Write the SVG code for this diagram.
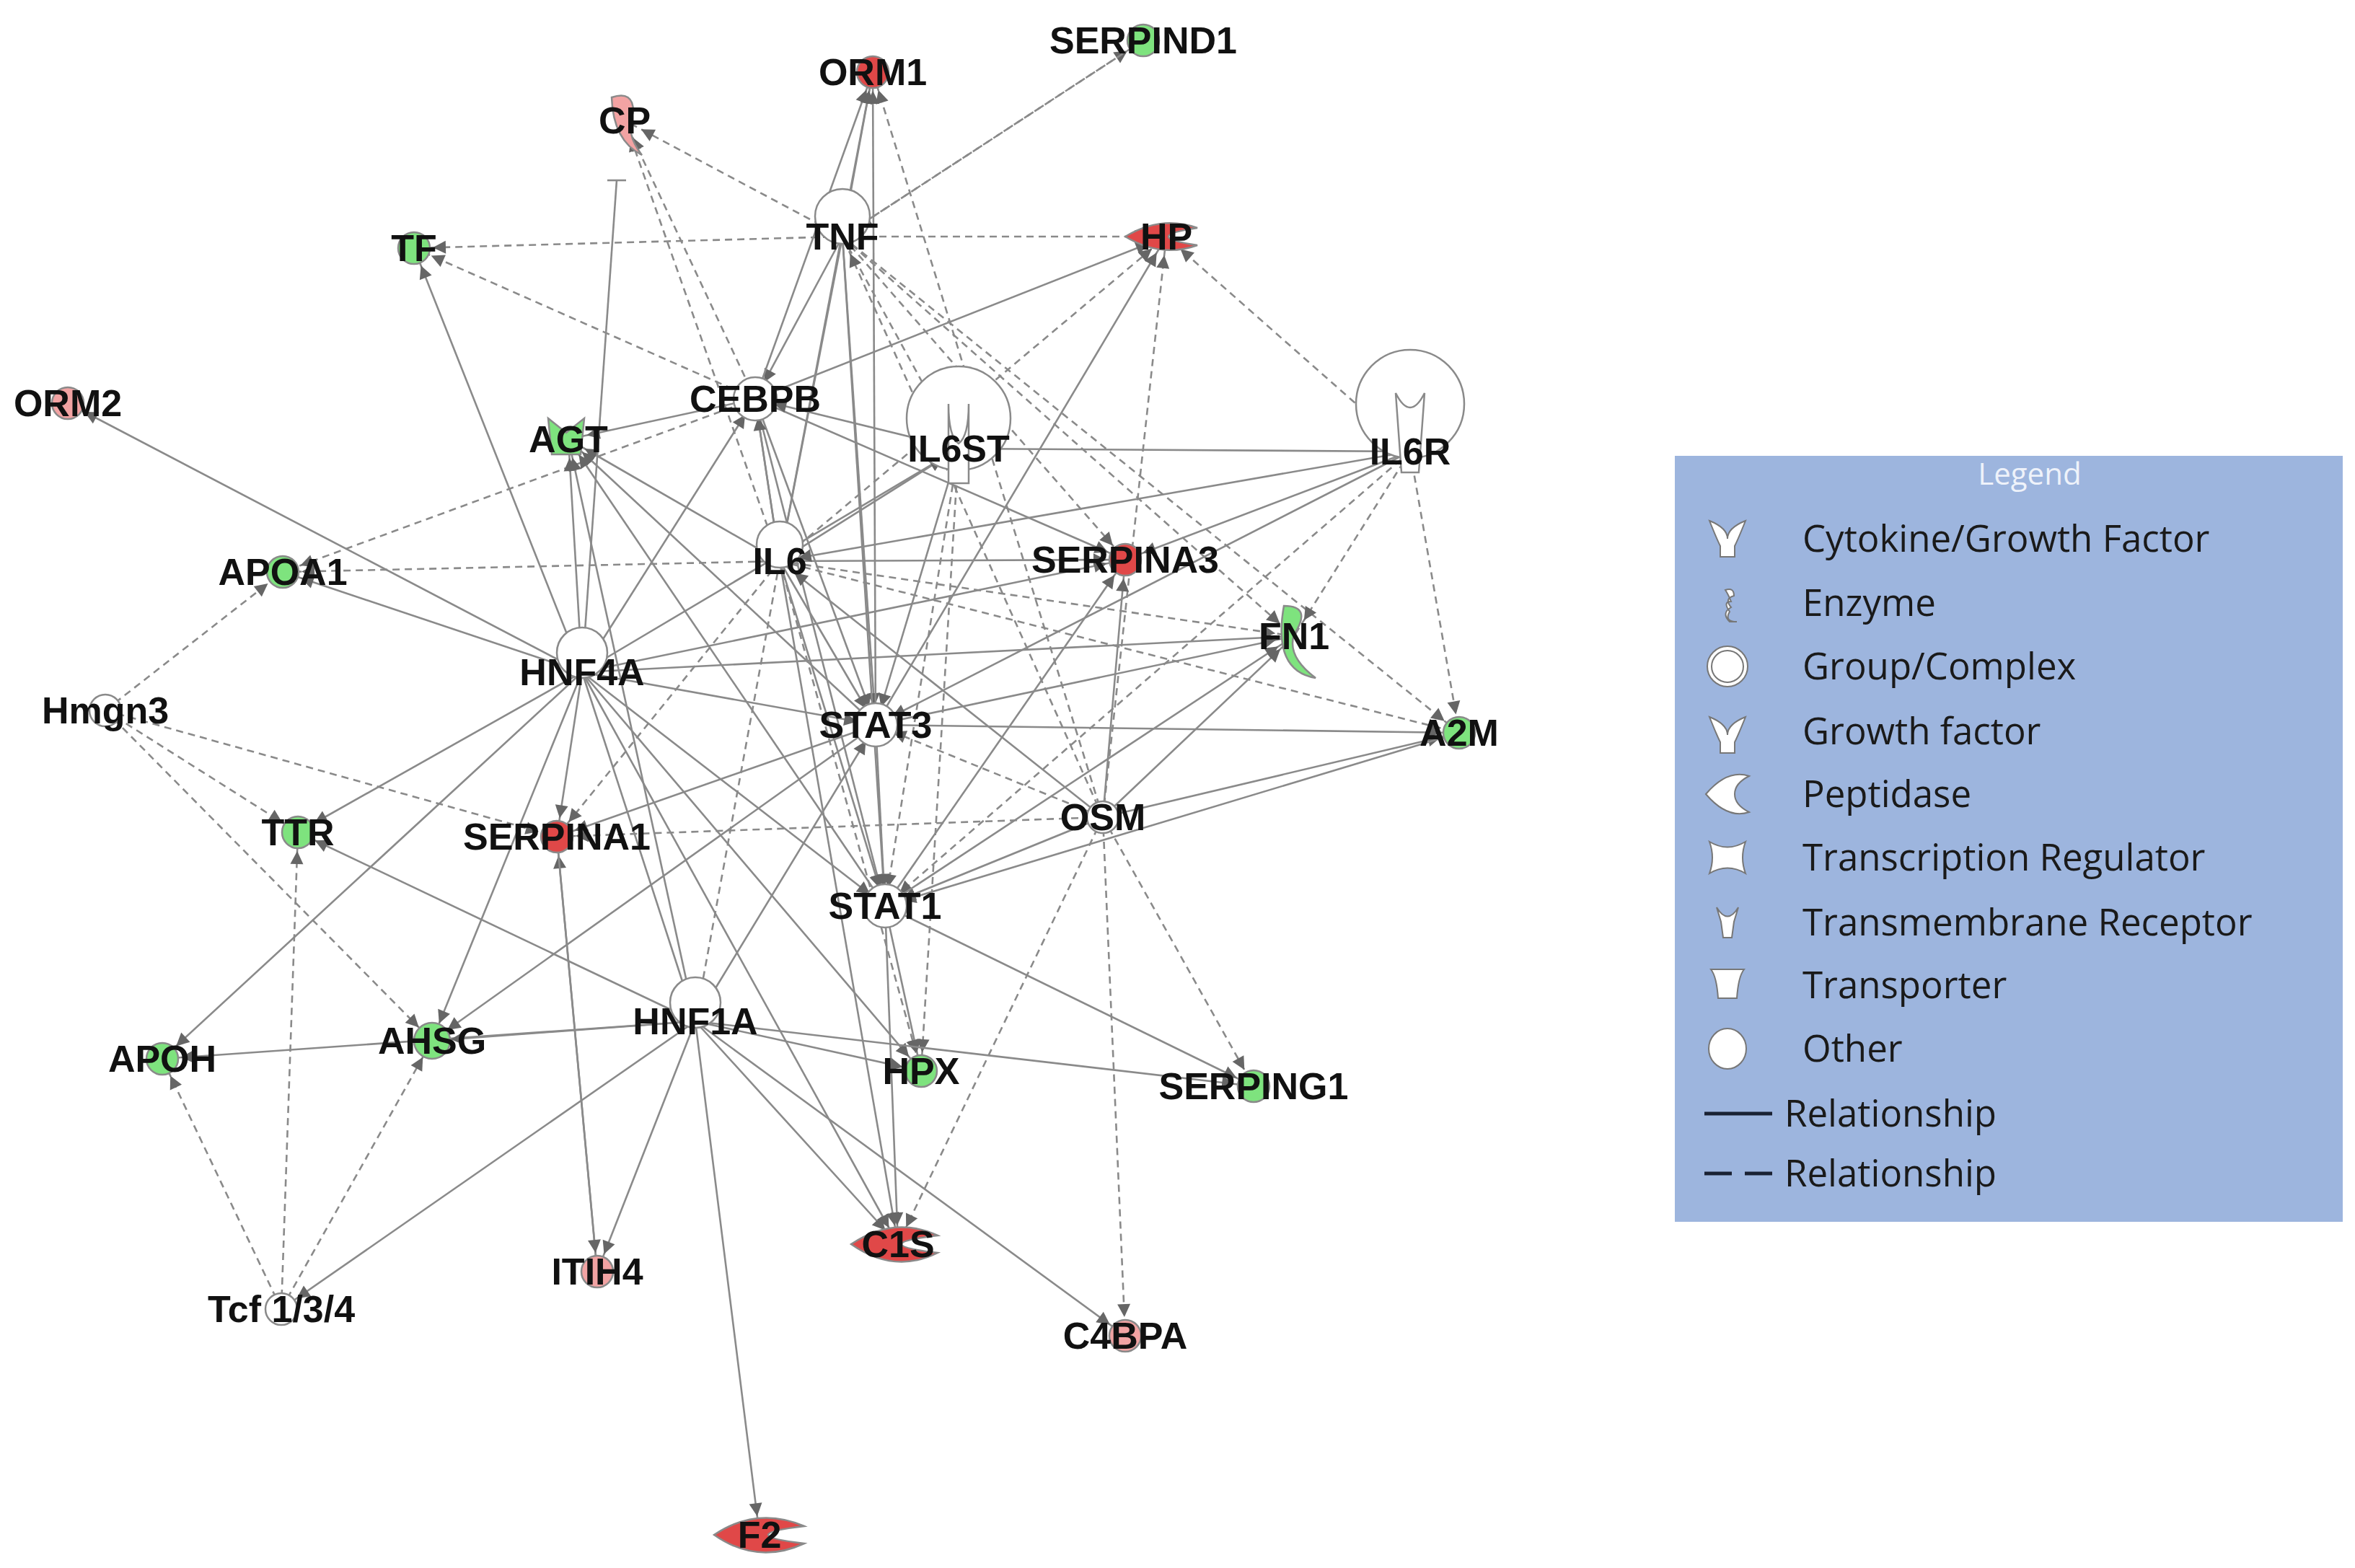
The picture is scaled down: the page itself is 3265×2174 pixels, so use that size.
<svg xmlns="http://www.w3.org/2000/svg" width="3265" height="2174" viewBox="0 0 3265 2174">
<style>
.e{stroke:#8a8a8a;stroke-width:2.6;fill:none;marker-end:url(#ah)}
.d{stroke-dasharray:10,7}
.n{stroke:#8a8a8a;stroke-width:2.5}
.w{fill:#fff}.r{fill:#e04848}.p{fill:#f2a3a3}.g{fill:#7ee37e}
.t{font-family:"Liberation Sans",Arial,sans-serif;font-weight:bold;font-size:52px;fill:#111;text-anchor:middle}
.lt{font-family:"Open Sans","Liberation Sans",sans-serif;font-size:51px;fill:#1a1a1a}
.li{fill:#fff;stroke:#777;stroke-width:2}
</style>
<defs>
<marker id="ah" markerUnits="userSpaceOnUse" viewBox="-10 -10 30 20" markerWidth="30" markerHeight="20" refX="38" refY="0" orient="auto" overflow="visible">
<path d="M-6,-9 L12,0 L-6,9 z" fill="#666"/>
</marker>
</defs>
<rect width="3265" height="2174" fill="#fff"/>
<g id="connectors">
<line class="e" x1="1168" y1="328" x2="1210" y2="100"/>
<line class="e d" x1="1168" y1="328" x2="866" y2="167"/>
<line class="e d" x1="1168" y1="328" x2="574" y2="344"/>
<line class="e d" x1="1168" y1="328" x2="1617" y2="328"/>
<line class="e" x1="1168" y1="328" x2="1047" y2="553"/>
<line class="e" x1="1168" y1="328" x2="1081" y2="778"/>
<line class="e d" x1="1168" y1="328" x2="1329" y2="622"/>
<line class="e d" x1="1168" y1="328" x2="1560" y2="776"/>
<line class="e d" x1="1168" y1="328" x2="1794" y2="882"/>
<line class="e d" x1="1168" y1="328" x2="2023" y2="1016"/>
<line class="e" x1="1168" y1="328" x2="1214" y2="1005"/>
<line class="e" x1="1168" y1="328" x2="1227" y2="1256"/>
<line class="e d" x1="1168" y1="328" x2="1585" y2="56"/>
<line class="e" x1="1047" y1="553" x2="1210" y2="100"/>
<line class="e d" x1="1047" y1="553" x2="866" y2="167"/>
<line class="e d" x1="1047" y1="553" x2="574" y2="344"/>
<line class="e" x1="1047" y1="553" x2="1617" y2="328"/>
<line class="e d" x1="1047" y1="553" x2="392" y2="793"/>
<line class="e" x1="1047" y1="553" x2="1081" y2="778"/>
<line class="e" x1="1047" y1="553" x2="1560" y2="776"/>
<line class="e" x1="1047" y1="553" x2="1214" y2="1005"/>
<line class="e" x1="1047" y1="553" x2="1227" y2="1256"/>
<line class="e" x1="1047" y1="553" x2="788" y2="609"/>
<line class="e" x1="1081" y1="778" x2="1210" y2="100"/>
<line class="e d" x1="1081" y1="778" x2="866" y2="167"/>
<line class="e d" x1="1081" y1="778" x2="1617" y2="328"/>
<line class="e d" x1="1081" y1="778" x2="392" y2="793"/>
<line class="e" x1="1081" y1="778" x2="1047" y2="553"/>
<line class="e" x1="1081" y1="778" x2="1329" y2="622"/>
<line class="e" x1="1081" y1="778" x2="1560" y2="776"/>
<line class="e d" x1="1081" y1="778" x2="1794" y2="882"/>
<line class="e d" x1="1081" y1="778" x2="2023" y2="1016"/>
<line class="e" x1="1081" y1="778" x2="1214" y2="1005"/>
<line class="e" x1="1081" y1="778" x2="1227" y2="1256"/>
<line class="e d" x1="1081" y1="778" x2="964" y2="1416"/>
<line class="e d" x1="1081" y1="778" x2="772" y2="1160"/>
<line class="e" x1="1081" y1="778" x2="788" y2="609"/>
<line class="e d" x1="1081" y1="778" x2="1277" y2="1485"/>
<line class="e" x1="1081" y1="778" x2="1245" y2="1725"/>
<line class="e d" x1="1955" y1="626" x2="1617" y2="328"/>
<line class="e" x1="1955" y1="626" x2="1329" y2="622"/>
<line class="e d" x1="1955" y1="626" x2="1794" y2="882"/>
<line class="e d" x1="1955" y1="626" x2="2023" y2="1016"/>
<line class="e" x1="1955" y1="626" x2="1214" y2="1005"/>
<line class="e d" x1="1955" y1="626" x2="1227" y2="1256"/>
<line class="e" x1="1955" y1="626" x2="1560" y2="776"/>
<line class="e" x1="1955" y1="626" x2="1081" y2="778"/>
<line class="e" x1="1329" y1="622" x2="1214" y2="1005"/>
<line class="e d" x1="1329" y1="622" x2="1227" y2="1256"/>
<line class="e" x1="1329" y1="622" x2="1047" y2="553"/>
<line class="e d" x1="1329" y1="622" x2="1277" y2="1485"/>
<line class="e" x1="807" y1="932" x2="94" y2="559"/>
<line class="e" x1="807" y1="932" x2="574" y2="344"/>
<line class="e" x1="807" y1="932" x2="392" y2="793"/>
<line class="e" x1="807" y1="932" x2="788" y2="609"/>
<line class="e" x1="807" y1="932" x2="1047" y2="553"/>
<line class="e" x1="807" y1="932" x2="1329" y2="622"/>
<line class="e" x1="807" y1="932" x2="413" y2="1154"/>
<line class="e" x1="807" y1="932" x2="772" y2="1160"/>
<line class="e" x1="807" y1="932" x2="225" y2="1468"/>
<line class="e" x1="807" y1="932" x2="599" y2="1443"/>
<line class="e" x1="807" y1="932" x2="964" y2="1416"/>
<line class="e" x1="807" y1="932" x2="1277" y2="1485"/>
<line class="e" x1="807" y1="932" x2="1245" y2="1725"/>
<line class="e" x1="807" y1="932" x2="1227" y2="1256"/>
<line class="e" x1="807" y1="932" x2="1794" y2="882"/>
<line class="e" x1="807" y1="932" x2="1560" y2="776"/>
<line class="e" x1="807" y1="932" x2="1214" y2="1005"/>
<line stroke="#8a8a8a" stroke-width="2.6" x1="807" y1="932" x2="855" y2="250"/>
<line stroke="#8a8a8a" stroke-width="2.6" x1="842" y1="250" x2="868" y2="250"/>
<line class="e" x1="1214" y1="1005" x2="1210" y2="100"/>
<line class="e" x1="1214" y1="1005" x2="1617" y2="328"/>
<line class="e" x1="1214" y1="1005" x2="788" y2="609"/>
<line class="e" x1="1214" y1="1005" x2="2023" y2="1016"/>
<line class="e" x1="1214" y1="1005" x2="1794" y2="882"/>
<line class="e" x1="1214" y1="1005" x2="772" y2="1160"/>
<line class="e" x1="1214" y1="1005" x2="599" y2="1443"/>
<line class="e" x1="1214" y1="1005" x2="1227" y2="1256"/>
<line class="e d" x1="1529" y1="1133" x2="1210" y2="100"/>
<line class="e d" x1="1529" y1="1133" x2="1617" y2="328"/>
<line class="e d" x1="1529" y1="1133" x2="1214" y2="1005"/>
<line class="e" x1="1529" y1="1133" x2="1227" y2="1256"/>
<line class="e" x1="1529" y1="1133" x2="1560" y2="776"/>
<line class="e" x1="1529" y1="1133" x2="1794" y2="882"/>
<line class="e" x1="1529" y1="1133" x2="2023" y2="1016"/>
<line class="e" x1="1529" y1="1133" x2="1081" y2="778"/>
<line class="e d" x1="1529" y1="1133" x2="1245" y2="1725"/>
<line class="e d" x1="1529" y1="1133" x2="1560" y2="1852"/>
<line class="e d" x1="1529" y1="1133" x2="1738" y2="1506"/>
<line class="e d" x1="1529" y1="1133" x2="1168" y2="328"/>
<line class="e d" x1="1529" y1="1133" x2="772" y2="1160"/>
<line class="e" x1="1227" y1="1256" x2="1277" y2="1485"/>
<line class="e" x1="1227" y1="1256" x2="1245" y2="1725"/>
<line class="e" x1="1227" y1="1256" x2="1738" y2="1506"/>
<line class="e" x1="1227" y1="1256" x2="1560" y2="776"/>
<line class="e" x1="1227" y1="1256" x2="1794" y2="882"/>
<line class="e" x1="1227" y1="1256" x2="788" y2="609"/>
<line class="e" x1="2023" y1="1016" x2="1227" y2="1256"/>
<line class="e" x1="964" y1="1416" x2="413" y2="1154"/>
<line class="e" x1="964" y1="1416" x2="225" y2="1468"/>
<line class="e" x1="964" y1="1416" x2="599" y2="1443"/>
<line class="e" x1="964" y1="1416" x2="1277" y2="1485"/>
<line class="e" x1="964" y1="1416" x2="1245" y2="1725"/>
<line class="e" x1="964" y1="1416" x2="828" y2="1763"/>
<line class="e" x1="964" y1="1416" x2="1053" y2="2128"/>
<line class="e" x1="964" y1="1416" x2="1560" y2="1852"/>
<line class="e" x1="964" y1="1416" x2="390" y2="1815"/>
<line class="e" x1="964" y1="1416" x2="1738" y2="1506"/>
<line class="e" x1="964" y1="1416" x2="1214" y2="1005"/>
<line class="e" x1="964" y1="1416" x2="788" y2="609"/>
<line class="e d" x1="146" y1="985" x2="392" y2="793"/>
<line class="e d" x1="146" y1="985" x2="413" y2="1154"/>
<line class="e d" x1="146" y1="985" x2="599" y2="1443"/>
<line class="e d" x1="146" y1="985" x2="772" y2="1160"/>
<line class="e d" x1="390" y1="1815" x2="225" y2="1468"/>
<line class="e d" x1="390" y1="1815" x2="413" y2="1154"/>
<line class="e d" x1="390" y1="1815" x2="599" y2="1443"/>
<line class="e" x1="828" y1="1763" x2="772" y2="1160"/>
<line class="e" x1="772" y1="1160" x2="828" y2="1763"/>
<line class="e d" x1="1585" y1="56" x2="1168" y2="328"/>
</g>
<g id="ORM1"><circle class="n r" cx="1210" cy="100" r="22"/><text class="t" x="1210" y="118">ORM1</text></g>
<g id="SERPIND1"><circle class="n g" cx="1585" cy="56" r="22"/><text class="t" x="1585" y="74">SERPIND1</text></g>
<g id="CP"><path class="n p" d="M848,135 q30,-10 30,20 q-12,30 12,60 q-40,-20 -42,-80z"/><text class="t" x="866" y="185">CP</text></g>
<g id="TF"><circle class="n g" cx="574" cy="344" r="22"/><text class="t" x="574" y="362">TF</text></g>
<g id="TNF"><circle class="n w" cx="1168" cy="300" r="38" fill="none"/><text class="t" x="1168" y="346">TNF</text></g>
<g id="HP"><path class="n r" d="M1560,328 q50,-30 100,-12 q-40,6 -40,12 q0,6 40,12 q-50,18 -100,-12z"/><text class="t" x="1617" y="346">HP</text></g>
<g id="ORM2"><circle class="n p" cx="94" cy="559" r="22"/><text class="t" x="94" y="577">ORM2</text></g>
<g id="CEBPB"><circle class="n w" cx="1047" cy="553" r="30"/><text class="t" x="1047" y="571">CEBPB</text></g>
<g id="AGT"><path class="n g" d="M760,580 l25,20 l25,-20 l-5,50 l-40,0z"/><text class="t" x="788" y="627">AGT</text></g>
<g id="IL6ST"><circle class="n w" cx="1329" cy="580" r="72"/><path class="n w" d="M1315,560 q0,45 14,55 q14,-10 14,-55 l0,110 l-28,0z"/><text class="t" x="1329" y="640">IL6ST</text></g>
<g id="IL6R"><circle class="n w" cx="1955" cy="560" r="75"/><path class="n w" d="M1935,545 q20,40 40,0 l-8,110 l-24,0z"/><text class="t" x="1955" y="644">IL6R</text></g>
<g id="APOA1"><circle class="n g" cx="392" cy="793" r="22"/><text class="t" x="392" y="811">APOA1</text></g>
<g id="IL6"><circle class="n w" cx="1081" cy="755" r="32"/><text class="t" x="1081" y="796">IL6</text></g>
<g id="SERPINA3"><circle class="n r" cx="1560" cy="776" r="22"/><text class="t" x="1560" y="794">SERPINA3</text></g>
<g id="FN1"><path class="n g" d="M1780,840 q40,0 14,40 q-10,30 30,60 q-60,-10 -44,-100z"/><text class="t" x="1794" y="900">FN1</text></g>
<g id="HNF4A"><circle class="n w" cx="807" cy="905" r="35"/><text class="t" x="807" y="950">HNF4A</text></g>
<g id="Hmgn3"><circle class="n w" cx="146" cy="985" r="22"/><text class="t" x="146" y="1003">Hmgn3</text></g>
<g id="STAT3"><circle class="n w" cx="1214" cy="1005" r="30"/><text class="t" x="1214" y="1023">STAT3</text></g>
<g id="A2M"><circle class="n g" cx="2023" cy="1016" r="22"/><text class="t" x="2023" y="1034">A2M</text></g>
<g id="TTR"><circle class="n g" cx="413" cy="1154" r="22"/><text class="t" x="413" y="1172">TTR</text></g>
<g id="SERPINA1"><circle class="n r" cx="772" cy="1160" r="22"/><text class="t" x="772" y="1178">SERPINA1</text></g>
<g id="OSM"><circle class="n w" cx="1529" cy="1133" r="22"/><text class="t" x="1529" y="1151">OSM</text></g>
<g id="STAT1"><circle class="n w" cx="1227" cy="1256" r="30"/><text class="t" x="1227" y="1274">STAT1</text></g>
<g id="HNF1A"><circle class="n w" cx="964" cy="1390" r="35"/><text class="t" x="964" y="1434">HNF1A</text></g>
<g id="APOH"><circle class="n g" cx="225" cy="1468" r="22"/><text class="t" x="225" y="1486">APOH</text></g>
<g id="AHSG"><circle class="n g" cx="599" cy="1443" r="25"/><text class="t" x="599" y="1461">AHSG</text></g>
<g id="HPX"><circle class="n g" cx="1277" cy="1485" r="22"/><text class="t" x="1277" y="1503">HPX</text></g>
<g id="SERPING1"><circle class="n g" cx="1738" cy="1506" r="22"/><text class="t" x="1738" y="1524">SERPING1</text></g>
<g id="C1S"><path class="n r" d="M1180,1725 q60,-40 120,-12 q-50,6 -50,12 q0,6 50,12 q-60,30 -120,-12z"/><text class="t" x="1245" y="1743">C1S</text></g>
<g id="ITIH4"><circle class="n p" cx="828" cy="1763" r="22"/><text class="t" x="828" y="1781">ITIH4</text></g>
<g id="Tcf"><circle class="n w" cx="390" cy="1815" r="22"/><text class="t" x="390" y="1833">Tcf 1/3/4</text></g>
<g id="C4BPA"><circle class="n p" cx="1560" cy="1852" r="22"/><text class="t" x="1560" y="1870">C4BPA</text></g>
<g id="F2"><path class="n r" d="M990,2128 q60,-40 125,-12 q-50,6 -50,12 q0,6 50,12 q-65,30 -125,-12z"/><text class="t" x="1053" y="2146">F2</text></g>
<g id="legend">
<rect x="2322" y="632" width="926" height="1062" fill="#9db5de"/>
<text x="2814" y="672" font-family="'Open Sans','Liberation Sans',sans-serif" font-size="42" fill="#eef2fa" text-anchor="middle">Legend</text>
<path class="li" d="M2370,722 q25,10 25,25 q0,-15 25,-25 q-10,25 -15,35 l0,15 l-20,0 l0,-15 q-5,-10 -15,-35z"/>
<text class="lt" x="2499" y="765">Cytokine/Growth Factor</text>
<path class="li" d="M2392,818 q12,-4 12,8 q-14,4 -4,16 q-14,8 -2,20 l10,0 q-18,0 -10,-14 q-10,-14 2,-14 q-4,-10 -8,-16z"/>
<text class="lt" x="2499" y="854">Enzyme</text>
<circle class="li" cx="2395" cy="924" r="28"/><circle cx="2395" cy="924" r="22" fill="none" stroke="#777" stroke-width="2"/>
<text class="lt" x="2499" y="942">Group/Complex</text>
<path class="li" d="M2370,994 q25,10 25,25 q0,-15 25,-25 q-10,25 -15,35 l0,15 l-20,0 l0,-15 q-5,-10 -15,-35z"/>
<text class="lt" x="2499" y="1032">Growth factor</text>
<path class="li" d="M2365,1101 q30,-35 60,-25 q-20,10 -20,25 q0,15 20,25 q-30,10 -60,-25z"/>
<text class="lt" x="2499" y="1119">Peptidase</text>
<path class="li" d="M2370,1167 q25,15 50,0 q-8,22 0,44 q-25,-15 -50,0 q8,-22 0,-44z"/>
<text class="lt" x="2499" y="1207">Transcription Regulator</text>
<path class="li" d="M2380,1258 q15,25 30,0 l-6,20 l-3,22 l-12,0 l-3,-22z"/>
<text class="lt" x="2499" y="1297">Transmembrane Receptor</text>
<path class="li" d="M2372,1344 l46,0 q-8,10 -10,40 l-26,0 q-2,-30 -10,-40z"/>
<text class="lt" x="2499" y="1384">Transporter</text>
<ellipse class="li" cx="2395" cy="1454" rx="26" ry="28"/>
<text class="lt" x="2499" y="1472">Other</text>
<line x1="2363" y1="1544" x2="2457" y2="1544" stroke="#1a2233" stroke-width="5"/>
<text class="lt" x="2474" y="1562">Relationship</text>
<line x1="2363" y1="1627" x2="2457" y2="1627" stroke="#1a2233" stroke-width="5" stroke-dasharray="38,18"/>
<text class="lt" x="2474" y="1645">Relationship</text>
</g>
</svg>
